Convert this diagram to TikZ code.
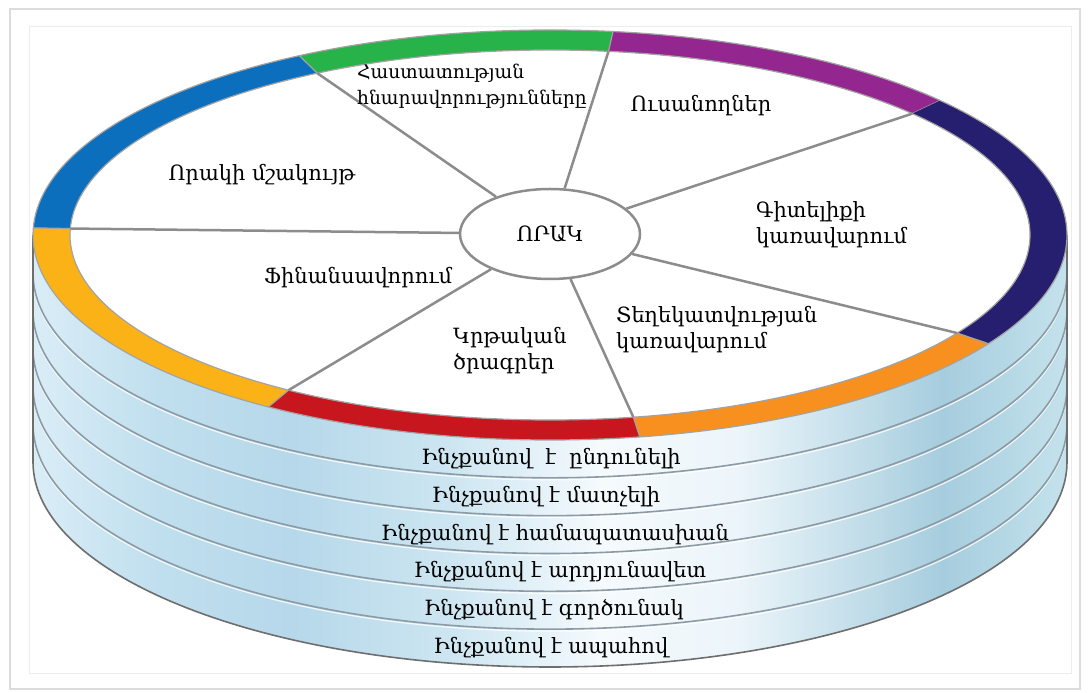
\documentclass[tikz,border=0pt]{standalone}
\usepackage{fontspec}
\setmainfont{DejaVu Serif}
\usetikzlibrary{shapes.geometric}

% rim colours
\definecolor{rimgreen}{RGB}{40,178,74}
\definecolor{rimpurple}{RGB}{147,39,143}
\definecolor{rimnavy}{RGB}{38,30,110}
\definecolor{rimorange}{RGB}{247,144,30}
\definecolor{rimred}{RGB}{200,22,30}
\definecolor{rimyellow}{RGB}{251,178,22}
\definecolor{rimblue}{RGB}{11,111,190}
\definecolor{spokegray}{RGB}{140,140,140}
\definecolor{edgegray}{RGB}{110,110,110}
\definecolor{stripegray}{RGB}{140,155,165}
\definecolor{frameouter}{RGB}{220,220,220}
\definecolor{frameinner}{RGB}{236,236,236}
% side band colours
\definecolor{sideA}{RGB}{218,237,247}
\definecolor{sideB}{RGB}{192,223,238}
\definecolor{sideC}{RGB}{182,216,234}
\definecolor{sideD}{RGB}{204,229,241}
\definecolor{sideE}{RGB}{245,250,253}
\definecolor{sideF}{RGB}{236,245,250}
\definecolor{sideG}{RGB}{166,205,222}
\definecolor{sideH}{RGB}{196,226,236}

% the filled path covers the range 25bp..75bp of the shading
\pgfdeclarehorizontalshading{sideband}{100bp}{%
  color(0bp)=(sideA); color(25bp)=(sideA); color(31bp)=(sideB);
  color(37.5bp)=(sideC); color(45bp)=(sideD); color(52.5bp)=(sideE);
  color(59bp)=(sideF); color(69bp)=(sideG); color(75bp)=(sideH);
  color(100bp)=(sideH)}

\tikzset{
  spoke/.style={draw=spokegray, line width=2.5pt},
  rimedge/.style={draw=spokegray!80, line width=1.2pt},
  stripe/.style={draw=stripegray, line width=1.6pt},
  stripelight/.style={draw=white, line width=1.2pt, opacity=0.8},
  outline/.style={draw=edgegray, line width=1.6pt},
  label/.style={font=\fontsize{21}{26}\selectfont, inner sep=0pt},
  leftlabel/.style={label, align=left, anchor=west},
  bandtext/.style={font=\fontsize{21}{24}\selectfont, inner sep=0pt},
}

% rim segment between parametric angles #2 and #3
\newcommand{\rimpart}[3]{%
  \fill[#1] (#2:517 and 205) arc[start angle=#2, end angle=#3, x radius=517, y radius=205]
    -- (#3:480 and 185) arc[start angle=#3, end angle=#2, x radius=480, y radius=185] -- cycle;
  \draw[rimedge] (#2:517 and 205) -- (#2:480 and 185);}

\begin{document}
\begin{tikzpicture}[x=1pt, y=1pt]
\useasboundingbox (0,0) rectangle (1088,693);
\fill[white] (0,0) rectangle (1088,693);

% frame
\draw[frameouter, line width=2pt] (10,4) rectangle (1080,684);
\draw[frameinner, line width=1pt] (29,19) rectangle (1071,666);

% cylinder side
\shade[shading=sideband] (33,458) -- (33,231)
  arc[start angle=180, end angle=360, x radius=517, y radius=205]
  -- (1067,458)
  arc[start angle=0, end angle=-180, x radius=517, y radius=205] -- cycle;
\foreach \k in {1,...,5}{
  \draw[stripelight] (33,{458-37.83*\k-2}) arc[start angle=180, end angle=360, x radius=517, y radius=205];
  \draw[stripe] (33,{458-37.83*\k}) arc[start angle=180, end angle=360, x radius=517, y radius=205];
}
\draw[outline] (33,458) -- (33,231)
  arc[start angle=180, end angle=360, x radius=517, y radius=205]
  -- (1067,458);

% top face
\begin{scope}[shift={(550,458)}]
  \fill[white] (0,0) ellipse [x radius=517, y radius=205];
  \rimpart{rimpurple}{41}{83}
  \rimpart{rimgreen}{83}{119}
  \rimpart{rimblue}{119}{178}
  \rimpart{rimyellow}{178}{237}
  \rimpart{rimred}{237}{280}
  \rimpart{rimorange}{280}{328}
  \rimpart{rimnavy}{-32}{41}
  \draw[rimedge] (0,0) ellipse [x radius=517, y radius=205];
  \draw[rimedge] (0,0) ellipse [x radius=480, y radius=185];
  \coordinate (b1) at (83:480 and 185);
  \coordinate (b2) at (41:480 and 185);
  \coordinate (b3) at (-32:480 and 185);
  \coordinate (b4) at (-80:480 and 185);
  \coordinate (b5) at (-123:480 and 185);
  \coordinate (b6) at (178:480 and 185);
  \coordinate (b7) at (119:480 and 185);
\end{scope}

% centre
\node[ellipse, draw=spokegray, line width=2.5pt, fill=white, minimum width=180pt,
      minimum height=90pt, inner sep=0pt, font=\fontsize{21}{24}\selectfont]
      (orak) at (550,459) {ՈՐԱԿ};
\foreach \b in {b1,b2,b3,b4,b5,b6,b7}
  \draw[spoke] (orak) -- (\b);

% sector labels
\node[leftlabel, font=\fontsize{18.7}{26}\selectfont] (hast) at (357,607)
  {Հաստատության\\հնարավորությունները};
\node[label] (usan) at (701,587) {Ուսանողներ};
\node[label] (mshak) at (262,518) {Որակի մշակույթ};
\node[leftlabel] (gitel) at (756,468) {Գիտելիքի\\կառավարում};
\node[label] (finans) at (358,415) {Ֆինանսավորում};
\node[leftlabel] (krt) at (453,342) {Կրթական\\ծրագրեր};
\node[leftlabel] (tegh) at (616,363) {Տեղեկատվության\\կառավարում};

% side band texts
\node[bandtext] (q1) at (551,234) {Ինչքանով\ \ է\ \ ընդունելի};
\node[bandtext] (q2) at (546,196) {Ինչքանով է մատչելի};
\node[bandtext] (q3) at (555,158) {Ինչքանով է համապատասխան};
\node[bandtext] (q4) at (560,121) {Ինչքանով է արդյունավետ};
\node[bandtext] (q5) at (554,83) {Ինչքանով է գործունակ};
\node[bandtext] (q6) at (551,45) {Ինչքանով է ապահով};
\end{tikzpicture}
\end{document}
